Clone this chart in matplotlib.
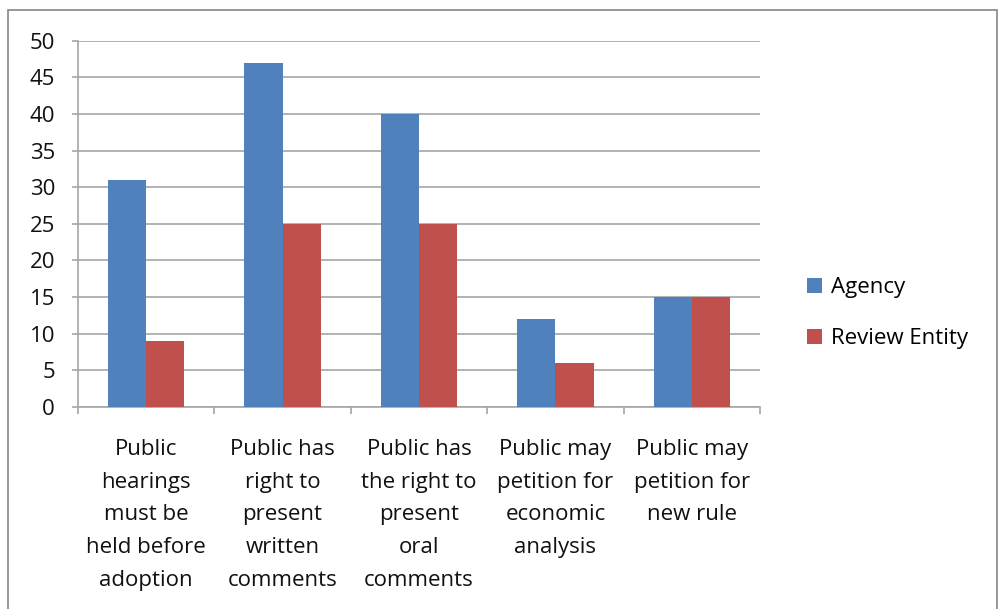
import matplotlib.pyplot as plt
import numpy as np
from matplotlib.patches import Rectangle

## Data

categories = [
    "Public\nhearings\nmust be\nheld before\nadoption",
    "Public has\nright to\npresent\nwritten\ncomments",
    "Public has\nthe right to\npresent\noral\ncomments",
    "Public may\npetition for\neconomic\nanalysis",
    "Public may\npetition for\nnew rule",
]
agency = [31, 47, 40, 12, 15]
review_entity = [9, 25, 25, 6, 15]
y_ticks = [0, 5, 10, 15, 20, 25, 30, 35, 40, 45, 50]

## Figure

plt.rcParams['font.family'] = ['Open Sans', 'DejaVu Sans']

fig = plt.figure(figsize=(10, 6.09), dpi=100)
ax = fig.add_axes([0.078, 0.332, 0.682, 0.601])

# outer chart border (Excel style)
fig.patches.append(Rectangle((0.008, -0.01), 0.989, 0.994, transform=fig.transFigure,
                             fill=False, edgecolor="#868686", linewidth=1.2))

x = np.arange(len(categories))
w = 0.28
ax.bar(x - w / 2, agency, w, color="#4F81BD", label="Agency", zorder=3)
ax.bar(x + w / 2, review_entity, w, color="#C0504D", label="Review Entity", zorder=3)

ax.set_xlim(-0.5, len(categories) - 0.5)
ax.set_ylim(0, 50)
ax.set_yticks(y_ticks)
ax.yaxis.grid(True, color="#A6A6A6", linewidth=1.2, zorder=0)

# category labels, tick marks at category boundaries
ax.set_xticks(x)
ax.set_xticklabels(categories, fontsize=16, linespacing=1.74, color="#111111")
ax.tick_params(axis="x", length=0, pad=23)
ax.set_xticks(np.arange(-0.5, len(categories)), minor=True)
ax.tick_params(axis="x", which="minor", length=5, color="#A6A6A6", width=1.2)
ax.tick_params(axis="y", length=4.5, color="#A6A6A6", width=1.2, labelsize=16,
               labelcolor="#111111", pad=12)

for side in ["top", "right"]:
    ax.spines[side].set_visible(False)
for side in ["left", "bottom"]:
    ax.spines[side].set_color("#A6A6A6")
    ax.spines[side].set_linewidth(1.2)

ax.legend(loc="center left", bbox_to_anchor=(1.04, 0.255), frameon=False,
          fontsize=16, handlelength=0.65, handleheight=0.65, handletextpad=0.4,
          labelspacing=1.35)

fig.savefig("out.png", dpi=100)
